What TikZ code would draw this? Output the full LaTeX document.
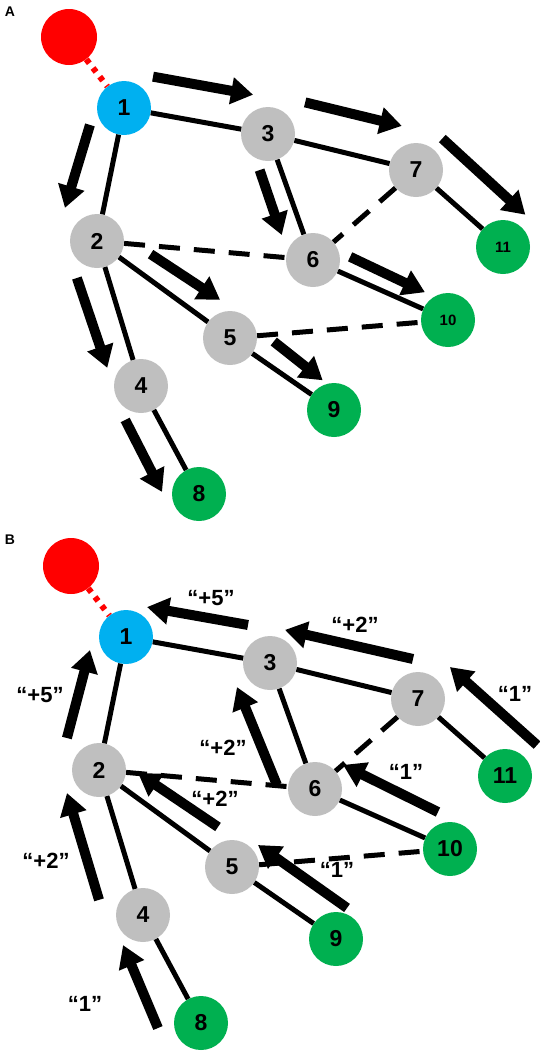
\documentclass[tikz,border=0pt]{standalone}
\usepackage{fontspec}
\setmainfont{Liberation Sans}
\usetikzlibrary{arrows.meta,calc}
\definecolor{rootred}{RGB}{255,0,0}
\definecolor{srcblue}{RGB}{0,176,240}
\definecolor{midgrey}{RGB}{191,191,191}
\definecolor{leafgreen}{RGB}{0,176,80}
% thick flow arrow beside the edge #1--#2: start/end fraction and side offset
\newcommand{\flowarr}[6]{\draw[flow]($(#1)!#3!(#2)!#4pt!90:(#2)$)--($(#1)!#5!(#2)!#6pt!90:(#2)$);}

\begin{document}
\begin{tikzpicture}[x=1pt,y=-1pt,
 vtx/.style={circle,minimum size=54pt,inner sep=0pt,font=\fontsize{23}{23}\selectfont\bfseries},
 root/.style={circle,fill=rootred,minimum size=56pt,inner sep=0pt},
 src/.style={vtx,fill=srcblue},
 mid/.style={vtx,fill=midgrey},
 leaf/.style={vtx,fill=leafgreen},
 small/.style={font=\fontsize{15}{15}\selectfont\bfseries},
 link/.style={line width=5pt},
 cut/.style={line width=5pt,dash pattern=on 21pt off 14pt},
 tie/.style={rootred,line width=6pt,dash pattern=on 5pt off 6pt},
 flow/.style={line width=10pt,-{Triangle[length=22pt,width=26pt]}},
 tag/.style={font=\fontsize{22}{22}\selectfont\bfseries},
 panel/.style={font=\fontsize{14}{14}\selectfont\bfseries}]
\useasboundingbox (0,0) rectangle (540,1053);

% panel A
\node[panel] (labA) at (10,12) {A};
\node[root] (aR) at (69,37) {};
\node[src] (a1) at (124,108) {1};
\node[mid] (a2) at (97,241) {2};
\node[mid] (a3) at (268,134) {3};
\node[mid] (a4) at (141,386) {4};
\node[mid] (a5) at (230,338) {5};
\node[mid] (a6) at (313,260) {6};
\node[mid] (a7) at (416,170) {7};
\node[leaf] (a8) at (199,494) {8};
\node[leaf] (a9) at (334,410) {9};
\node[leaf,small] (a10) at (448,320) {10};
\node[leaf,small] (a11) at (503,247) {11};

\draw[tie](aR)--(a1);
\draw[link](a1)--(a3);\draw[link](a1)--(a2);\draw[link](a3)--(a7);\draw[link](a3)--(a6);
\draw[link](a7)--(a11);\draw[link](a2)--(a5);\draw[link](a2)--(a4);\draw[link](a6)--(a10);
\draw[link](a5)--(a9);\draw[link](a4)--(a8);
\draw[cut](a7)--(a6);\draw[cut](a2)--(a6);\draw[cut](a5)--(a10);

\flowarr{a1}{a3}{0.157}{36}{0.852}{36}
\flowarr{a3}{a7}{0.188}{39.5}{0.841}{39.5}
\flowarr{a7}{a11}{-0.01}{41}{0.96}{39}
\flowarr{a1}{a2}{0.172}{-30}{0.808}{-38}
\flowarr{a3}{a6}{0.233}{-20}{0.746}{-21}
\flowarr{a6}{a10}{0.221}{18}{0.781}{16}
\flowarr{a2}{a5}{0.31}{21}{0.815}{25}
\flowarr{a2}{a4}{0.195}{-30}{0.821}{-27}
\flowarr{a5}{a9}{0.30}{22}{0.793}{18}
\flowarr{a4}{a8}{0.183}{-30}{0.843}{-31.6}

% panel B
\node[panel] (labB) at (10,540) {B};
\node[root] (bR) at (71,566) {};
\node[src] (b1) at (126,637) {1};
\node[mid] (b2) at (99,770) {2};
\node[mid] (b3) at (270,663) {3};
\node[mid] (b4) at (143,915) {4};
\node[mid] (b5) at (232,867) {5};
\node[mid] (b6) at (315,789) {6};
\node[mid] (b7) at (418,699) {7};
\node[leaf] (b8) at (201,1023) {8};
\node[leaf] (b9) at (336,939) {9};
\node[leaf] (b10) at (450,849) {10};
\node[leaf] (b11) at (505,776) {11};

\draw[tie](bR)--(b1);
\draw[link](b1)--(b3);\draw[link](b1)--(b2);\draw[link](b3)--(b7);\draw[link](b3)--(b6);
\draw[link](b7)--(b11);\draw[link](b2)--(b5);\draw[link](b2)--(b4);\draw[link](b6)--(b10);
\draw[link](b5)--(b9);\draw[link](b4)--(b8);
\draw[cut](b7)--(b6);\draw[cut](b2)--(b6);\draw[cut](b5)--(b10);

\flowarr{b3}{b1}{0.194}{-33.5}{0.895}{-33.2}
\flowarr{b7}{b3}{0.094}{-37.7}{0.956}{-35.7}
\flowarr{b11}{b7}{-0.03}{-44.4}{0.977}{-45.1}
\flowarr{b2}{b1}{0.184}{37.8}{0.853}{32.7}
\flowarr{b6}{b3}{0.124}{34.5}{0.914}{39.2}
\flowarr{b10}{b6}{0.176}{-28.9}{0.893}{-33.4}
\flowarr{b5}{b2}{0.212}{-24.1}{0.798}{-20.6}
\flowarr{b4}{b2}{0.18}{37.7}{0.916}{37.3}
\flowarr{b9}{b5}{0.068}{-31.8}{0.93}{-32.9}
\flowarr{b8}{b4}{0.13}{40.3}{0.861}{31.8}

\node[tag] (w31) at (211,598) {“+5”};
\node[tag] (w73) at (355,625) {“+2”};
\node[tag] (w117) at (515,694) {“1”};
\node[tag] (w21) at (40,695) {“+5”};
\node[tag] (w63) at (223,748) {“+2”};
\node[tag] (w52) at (215,799) {“+2”};
\node[tag] (w106) at (406,772) {“1”};
\node[tag] (w42) at (46,861) {“+2”};
\node[tag] (w95) at (337,870) {“1”};
\node[tag] (w84) at (85,1004) {“1”};
\end{tikzpicture}
\end{document}
